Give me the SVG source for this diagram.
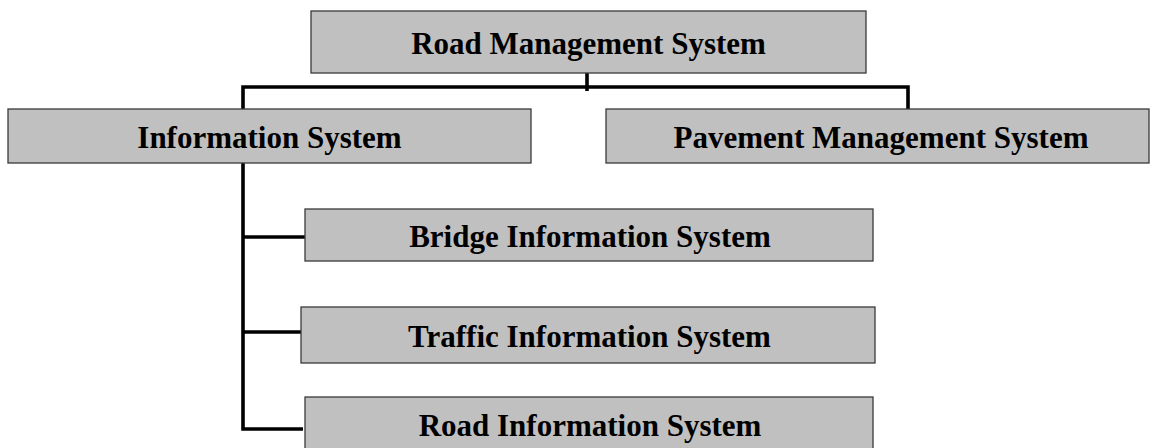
<svg xmlns="http://www.w3.org/2000/svg" width="1150" height="448" viewBox="0 0 1150 448">
<style>
.box{fill:#c0c0c0;stroke:#3a3a3a;stroke-width:1.3}
.lbl{font-family:"Liberation Serif","Times New Roman",serif;font-weight:bold;font-size:31px;fill:#000;text-anchor:middle}
.con{fill:none;stroke:#000;stroke-width:3.6;stroke-linecap:butt;stroke-linejoin:miter}
</style>
<rect width="1150" height="448" fill="#fff"/>
<g id="connectors">
<path class="con" d="M243,109 V87 H908 V109"/>
<path class="con" d="M587,73 V91"/>
<path class="con" d="M243,163 V429 H303"/>
<path class="con" d="M243,237 H305"/>
<path class="con" d="M243,332 H301"/>
</g>
<g id="road-management-system">
<rect class="box" x="311" y="11" width="555" height="62"/>
<text class="lbl" x="588.5" y="54">Road Management System</text>
</g>
<g id="information-system">
<rect class="box" x="8" y="109" width="523" height="54"/>
<text class="lbl" x="269.5" y="148">Information System</text>
</g>
<g id="pavement-management-system">
<rect class="box" x="606" y="109" width="543" height="54"/>
<text class="lbl" x="881" y="148">Pavement Management System</text>
</g>
<g id="bridge-information-system">
<rect class="box" x="305" y="209" width="568" height="52"/>
<text class="lbl" x="590" y="246.5">Bridge Information System</text>
</g>
<g id="traffic-information-system">
<rect class="box" x="301" y="307" width="574" height="56"/>
<text class="lbl" x="589.5" y="346.5">Traffic Information System</text>
</g>
<g id="road-information-system">
<rect class="box" x="305" y="397" width="568" height="56"/>
<text class="lbl" x="590" y="436">Road Information System</text>
</g>
</svg>
